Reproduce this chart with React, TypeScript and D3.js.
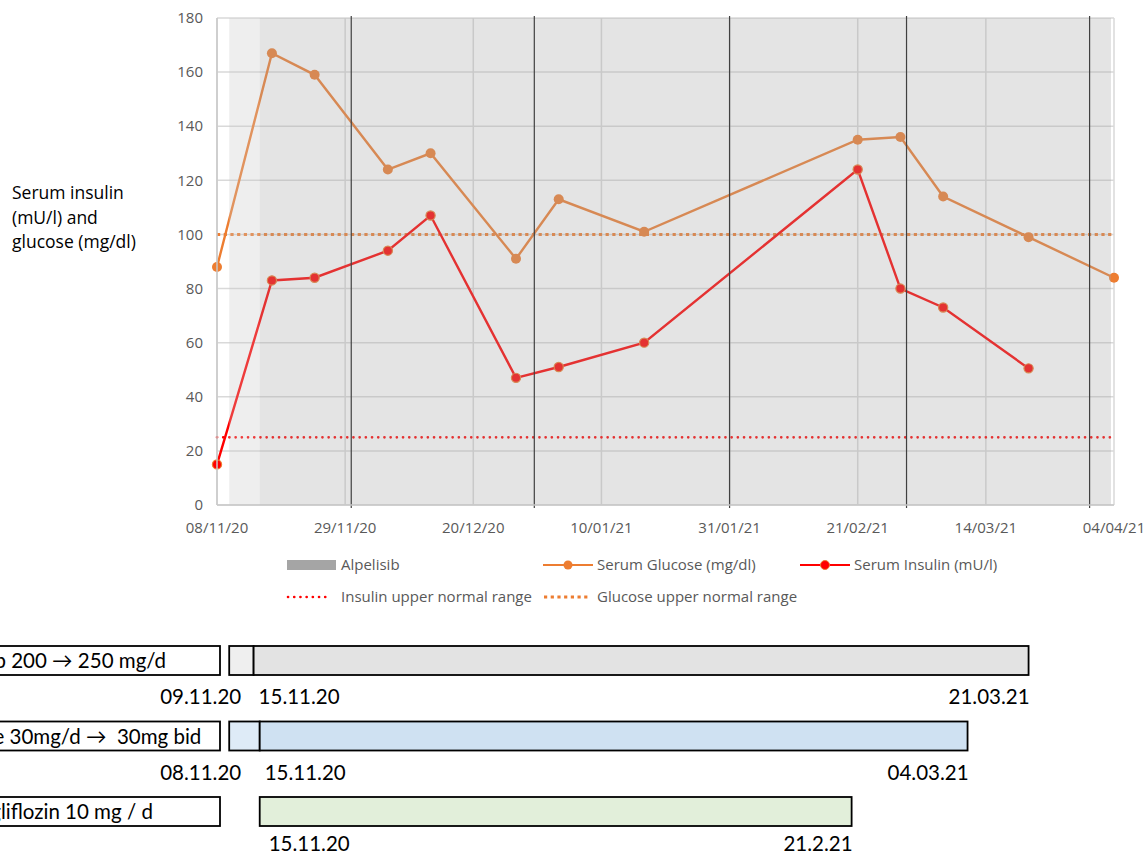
import React from 'react';
import * as d3 from 'd3';

const parse = d3.utcParse('%Y-%m-%d');

// series
const visitDates = ['2020-11-08', '2020-11-17', '2020-11-24', '2020-12-06', '2020-12-13', '2020-12-27', '2021-01-03', '2021-01-17', '2021-02-21', '2021-02-28', '2021-03-07', '2021-03-21', '2021-04-04'];
const glucoseValues = [88, 167, 159, 124, 130, 91, 113, 101, 135, 136, 114, 99, 84];
const insulinValues = [15, 83, 84, 94, 107, 47, 51, 60, 124, 80, 73, 50.5];

const glucoseUpperNormal = 100;
const insulinUpperNormal = 25;

const xTickDates = ['2020-11-08', '2020-11-29', '2020-12-20', '2021-01-10', '2021-01-31', '2021-02-21', '2021-03-14', '2021-04-04'];
const yTicks = [0, 20, 40, 60, 80, 100, 120, 140, 160, 180];
const cycleDates = ['2020-11-30', '2020-12-30', '2021-01-31', '2021-03-01', '2021-03-31'];

// alpelisib shading (run-in, then full dose)
const alpelisibRunIn = ['2020-11-10', '2020-11-15'];
const alpelisibFull = ['2020-11-15', '2021-04-04'];

// treatment timeline
const regimenNames = ['Alpelisib 200 \u2192 250 mg/d', 'Pioglitazone 30mg/d \u2192\u00a0 30mg bid', 'Dapagliflozin 10 mg / d'];
const regimenLeadStart = ['2020-11-10', '2020-11-10', null];
const regimenMainStart = ['2020-11-14', '2020-11-15', '2020-11-15'];
const regimenEnd = ['2021-03-21', '2021-03-11', '2021-02-20'];
const regimenLeadLabels = ['09.11.20', '08.11.20', null];
const regimenStartLabels = ['15.11.20', '15.11.20', '15.11.20'];
const regimenEndLabels = ['21.03.21', '04.03.21', '21.2.21'];
const regimenLight = ['#efefef', '#deebf7', null];
const regimenDark = ['#e3e3e3', '#cfe1f2', '#e2efda'];

const GLU = '#ed7d31';
const INS = '#ff0000';
const AXIS_TXT = '#595959';
const FONT = "'Open Sans', sans-serif";
const FONT2 = "Lato, sans-serif";

export default function App() {
  const width = 1147;
  const height = 854;

  const x = d3.scaleUtc()
    .domain([parse('2020-11-08')!, parse('2021-04-04')!])
    .range([217, 1114]);
  const y = d3.scaleLinear().domain([0, 180]).range([505, 18]);
  const rowY = d3.scaleLinear().domain([0, 2]).range([646, 797]);
  const barH = 29;

  const glucose = visitDates.map((d, i) => ({ date: parse(d)!, v: glucoseValues[i] }));
  const insulin = insulinValues.map((v, i) => ({ date: parse(visitDates[i])!, v }));

  const line = d3.line<{ date: Date; v: number }>().x(d => x(d.date)).y(d => y(d.v));
  const fmt = d3.utcFormat('%d/%m/%y');

  const [x0, x1] = x.range();

  return (
    <svg width={width} height={height} style={{ position: 'absolute', left: 0, top: 0, display: 'block' }}>
      <rect width={width} height={height} fill="white" />

      {/* gridlines */}
      {yTicks.map(t => (
        <line key={'gy' + t} x1={x0} x2={x1} y1={y(t)} y2={y(t)} stroke="#d9d9d9" strokeWidth={1.5} />
      ))}
      {xTickDates.map(d => (
        <line key={'gx' + d} x1={x(parse(d)!)} x2={x(parse(d)!)} y1={y(180)} y2={y(0)} stroke="#d9d9d9" strokeWidth={1.5} />
      ))}

      {/* reference lines */}
      <line x1={x0} x2={x1} y1={y(insulinUpperNormal)} y2={y(insulinUpperNormal)} stroke={INS} strokeWidth={2.6} strokeDasharray="0.1 6.1" strokeLinecap="round" />
      <line x1={x0} x2={x1} y1={y(glucoseUpperNormal)} y2={y(glucoseUpperNormal)} stroke={GLU} strokeWidth={3} strokeDasharray="3.2 3.5" />

      {/* series */}
      <path d={line(glucose)!} fill="none" stroke={GLU} strokeWidth={2.4} />
      {glucose.map((d, i) => (
        <circle key={'g' + i} cx={x(d.date)} cy={y(d.v)} r={5} fill={GLU} />
      ))}
      <path d={line(insulin)!} fill="none" stroke={INS} strokeWidth={2.4} />
      {insulin.map((d, i) => (
        <circle key={'i' + i} cx={x(d.date)} cy={y(d.v)} r={4.6} fill={INS} stroke={GLU} strokeWidth={1.2} />
      ))}

      {/* alpelisib shading sits in front, semi transparent */}
      <rect x={x(parse(alpelisibRunIn[0])!)} y={y(180)} width={x(parse(alpelisibRunIn[1])!) - x(parse(alpelisibRunIn[0])!)} height={y(0) - y(180)} fill="#c8c8c8" opacity={0.3} />
      <rect x={x(parse(alpelisibFull[0])!)} y={y(180)} width={x(parse(alpelisibFull[1])!) - x(parse(alpelisibFull[0])!) - 3} height={y(0) - y(180)} fill="#a5a5a5" opacity={0.3} />

      {/* cycle markers */}
      {cycleDates.map(d => (
        <line key={'c' + d} x1={x(parse(d)!)} x2={x(parse(d)!)} y1={y(180) - 2} y2={y(0) + 3} stroke="#404040" strokeWidth={1.2} />
      ))}

      {/* axes */}
      <line x1={x0} x2={x0} y1={y(180)} y2={y(0)} stroke="#c8c8c8" strokeWidth={1.5} />
      <line x1={x0} x2={x1} y1={y(0)} y2={y(0)} stroke="#c8c8c8" strokeWidth={1.5} />
      {yTicks.map(t => (
        <text key={'ty' + t} x={203} y={y(t)} dy="0.35em" textAnchor="end" fontFamily={FONT} fontSize={15} fill={AXIS_TXT}>{t}</text>
      ))}
      {xTickDates.map(d => (
        <text key={'tx' + d} x={x(parse(d)!)} y={533} textAnchor="middle" fontFamily={FONT} fontSize={15} fill={AXIS_TXT}>{fmt(parse(d)!)}</text>
      ))}

      {/* y title */}
      <text fontFamily={FONT} fontSize={17.5} fill="#000">
        <tspan x={12} y={199}>Serum insulin</tspan>
        <tspan x={12} y={224}>(mU/l) and</tspan>
        <tspan x={12} y={248}>glucose (mg/dl)</tspan>
      </text>

      {/* legend */}
      <g fontFamily={FONT} fontSize={15} fill={AXIS_TXT}>
        <rect x={287} y={560} width={49} height={10} fill="#a5a5a5" />
        <text x={341} y={570}>Alpelisib</text>
        <line x1={543} x2={593} y1={565} y2={565} stroke={GLU} strokeWidth={2.2} />
        <circle cx={568} cy={565} r={4.5} fill={GLU} />
        <text x={597} y={570}>Serum Glucose (mg/dl)</text>
        <line x1={800} x2={850} y1={565} y2={565} stroke={INS} strokeWidth={2.2} />
        <circle cx={825} cy={565} r={4.5} fill={INS} stroke={GLU} strokeWidth={1} />
        <text x={854} y={570}>Serum Insulin (mU/l)</text>
        <line x1={288} x2={330} y1={597} y2={597} stroke={INS} strokeWidth={2.6} strokeDasharray="0.1 6.1" strokeLinecap="round" />
        <text x={341} y={602}>Insulin upper normal range</text>
        <line x1={544} x2={590} y1={597} y2={597} stroke={GLU} strokeWidth={3} strokeDasharray="3.2 3.5" />
        <text x={597} y={602}>Glucose upper normal range</text>
      </g>

      {/* treatment timeline */}
      {regimenNames.map((name, i) => {
        const top = rowY(i);
        const lead = regimenLeadStart[i];
        const mainStart = x(parse(regimenMainStart[i])!);
        const end = x(parse(regimenEnd[i])!);
        return (
          <g key={'r' + i} fontFamily={FONT2} fontSize={20.5} fill="#000">
            <rect x={-130} y={top} width={350} height={barH} fill="white" stroke="#000" strokeWidth={1.8} />
            <text x={48} y={top + 22} textAnchor="middle">{name}</text>
            {lead && (
              <rect x={x(parse(lead)!)} y={top} width={mainStart - x(parse(lead)!)} height={barH} fill={regimenLight[i]!} stroke="#000" strokeWidth={1.8} />
            )}
            <rect x={mainStart} y={top} width={end - mainStart} height={barH} fill={regimenDark[i]} stroke="#000" strokeWidth={1.8} />
            {lead && (
              <text x={x(parse(lead)!) + 12} y={top + 58} textAnchor="end">{regimenLeadLabels[i]}</text>
            )}
            <text x={mainStart + (lead ? 5 : 9)} y={top + (lead ? 58 : 54)}>{regimenStartLabels[i]}</text>
            <text x={end + 1} y={top + (lead ? 58 : 54)} textAnchor="end">{regimenEndLabels[i]}</text>
          </g>
        );
      })}
    </svg>
  );
}
